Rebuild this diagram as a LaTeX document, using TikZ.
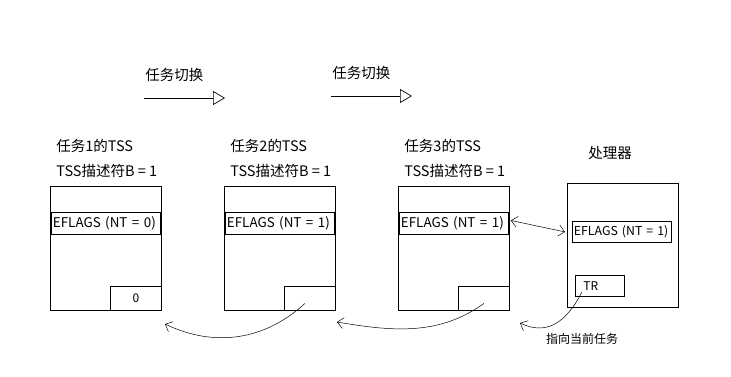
\documentclass[tikz,border=0pt]{standalone}
\usepackage{fontspec}
\setmainfont{Noto Sans CJK SC}
\usetikzlibrary{arrows.meta, positioning, calc}

\begin{document}
\begin{tikzpicture}[x=1pt, y=-1pt, line width=0.9pt, font=\fontsize{14.5}{16}\selectfont,
  box/.style={draw, inner sep=0pt, minimum width=111pt, minimum height=124pt, anchor=north west},
  flags/.style={draw, inner xsep=1.5pt, inner ysep=0pt, text width=106pt, align=left,
                minimum height=22pt, anchor=north west, font=\fontsize{13.4}{15}\selectfont},
  ptrbox/.style={draw, inner sep=0pt, minimum width=51pt, minimum height=24pt, anchor=south east,
                 font=\fontsize{12}{14}\selectfont},
  lbl/.style={anchor=west, inner sep=0pt},
  barb/.style={-{Straight Barb[length=6pt, width=11pt]}, line width=0.5pt},
  sw/.style={-{Triangle[open, length=12pt, width=14pt, line width=0.7pt]}, line width=0.8pt}]

  \useasboundingbox (0,0) rectangle (731,377);

  % task switches
  \node[lbl] (sw1) at (145,75) {任务切换};
  \coordinate (sw1a) at (144,98);
  \coordinate (sw1b) at (225,98);
  \draw[sw] (sw1a) -- (sw1b);
  \node[lbl] (sw2) at (332,73) {任务切换};
  \coordinate (sw2a) at (331,96);
  \coordinate (sw2b) at (412,96);
  \draw[sw] (sw2a) -- (sw2b);

  % the three TSS
  \foreach \n/\x/\nt/\p in {1/50/0/0, 2/224/1/{}, 3/398/1/{}} {
    \node[lbl] (title\n) at (\x+6,146) {任务\n{}的TSS};
    \node[lbl] (desc\n) at (\x+6,171) {TSS描述符B = 1};
    \node[box] (tss\n) at (\x,186) {};
    \node[flags] (flags\n) at (\x+1,212) {EFLAGS (NT = \nt)};
    \node[ptrbox] (ptr\n) at (tss\n.south east) {\p};
  }

  % processor
  \node (cpuname) at (610,153) {处理器};
  \node[box] (cpu) at (567,183) {};
  \node[flags, text width=96pt, minimum height=21pt, font=\fontsize{12.3}{14}\selectfont]
    (cpuflags) at (572,221) {EFLAGS (NT = 1)};
  \node[draw, inner xsep=8pt, inner ysep=0pt, text width=33pt, align=left, minimum height=21pt,
        anchor=north west, font=\fontsize{12}{14}\selectfont] (tr) at (575,275) {TR};
  \node[font=\fontsize{12}{14}\selectfont] (cur) at (582,339) {指向当前任务};

  \coordinate (tss1in) at (165,324);
  \coordinate (tss2in) at (337,322);
  \coordinate (tss3in) at (520,323);

  \draw[{Straight Barb[length=6pt, width=11pt]}-{Straight Barb[length=6pt, width=11pt]}, line width=0.5pt]
    ([xshift=2pt,yshift=3pt]flags3.east) -- ([xshift=-2pt]cpu.west |- cpuflags.center);
  \draw[barb] ([xshift=-5pt,yshift=-5pt]ptr2.center) .. controls (265,340) and (215,348) .. (tss1in);
  \draw[barb] ([yshift=-5pt]ptr3.center) .. controls (440,335) and (395,332) .. (tss2in);
  \draw[barb] ([xshift=-18pt,yshift=-6pt]tr.center) .. controls (565,325) and (545,335) .. (tss3in);

\end{tikzpicture}
\end{document}
